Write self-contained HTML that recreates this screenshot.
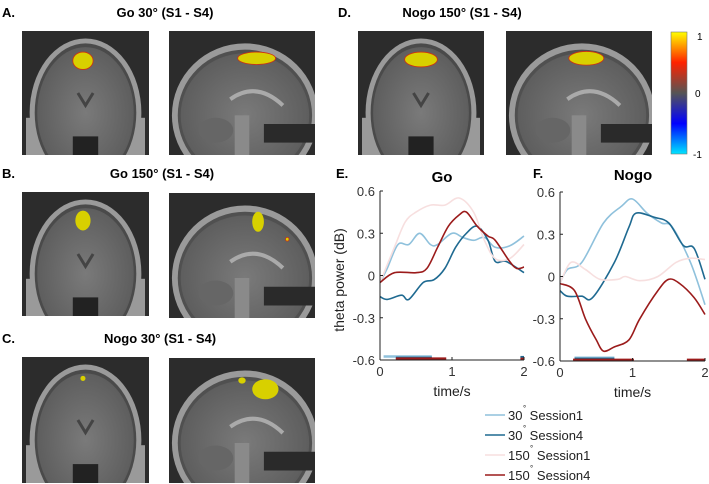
<!DOCTYPE html>
<html><head><meta charset="utf-8"><style>
html,body{margin:0;width:709px;height:484px;background:#fff;overflow:hidden;font-family:"Liberation Sans",Arial,sans-serif;}
svg{display:block;position:absolute;left:0;top:0}
</style></head><body>
<svg id="fig" width="709" height="484" viewBox="0 0 709 484" xmlns="http://www.w3.org/2000/svg">
<defs>
<linearGradient id="cbar" x1="0" y1="0" x2="0" y2="1">
<stop offset="0" stop-color="#ffff00"/><stop offset="0.25" stop-color="#ff2200"/><stop offset="0.5" stop-color="#555"/><stop offset="0.75" stop-color="#0000ff"/><stop offset="1" stop-color="#00e5ff"/>
</linearGradient>
<radialGradient id="brainG" cx="0.5" cy="0.5" r="0.5"><stop offset="0" stop-color="#7a7a7a"/><stop offset="1" stop-color="#5e5e5e"/></radialGradient>
</defs>
<g font-weight="bold" font-size="13" fill="#000">
<text x="2" y="17">A.</text>
<text x="165" y="17" text-anchor="middle">Go 30° (S1 - S4)</text>
<text x="338" y="17">D.</text>
<text x="462" y="17" text-anchor="middle">Nogo 150° (S1 - S4)</text>
<text x="2" y="178">B.</text>
<text x="162" y="178" text-anchor="middle">Go 150° (S1 - S4)</text>
<text x="2" y="343">C.</text>
<text x="160" y="343" text-anchor="middle">Nogo 30° (S1 - S4)</text>
<text x="336" y="178">E.</text>
<text x="533" y="178">F.</text>
<text x="442" y="182" text-anchor="middle" font-size="15">Go</text>
<text x="633" y="180" text-anchor="middle" font-size="15">Nogo</text>
</g>
<g id="brains"></g>
<g>
<rect x="671" y="32" width="16" height="122" fill="url(#cbar)" stroke="#777" stroke-width="0.6"/>
<text x="697" y="40" font-size="10">1</text>
<text x="695" y="97" font-size="10">0</text>
<text x="693" y="158" font-size="10">-1</text>
</g>
<text transform="translate(344,280) rotate(-90)" text-anchor="middle" font-size="14" fill="#222">theta power (dB)</text>
<g id="charts"></g>
<g id="legend" font-size="13" fill="#222"></g>
</svg>
<script>
const NS="http://www.w3.org/2000/svg";
function mk(tag,attrs,parent){const e=document.createElementNS(NS,tag);for(const k in attrs)e.setAttribute(k,attrs[k]);parent.appendChild(e);return e;}
const svgRoot=document.getElementById('fig');
const defs=svgRoot.querySelector('defs');
const brains=document.getElementById('brains');
let clipN=0;
function brain(x,y,w,h,type,blobs,name){
  clipN++;
  const cp=mk('clipPath',{id:'clip'+clipN},defs);
  mk('rect',{x:x,y:y,width:w,height:h},cp);
  const g=mk('g',{'clip-path':`url(#clip${clipN})`},brains);
  
  
  mk('rect',{x:x,y:y,width:w,height:h,fill:'#2c2c2c'},g);
  if(type==='cor'){
    mk('rect',{x:x+4,y:y+h*0.7,width:w-8,height:h*0.3,fill:'#9a9a9a'},g);
    mk('ellipse',{cx:x+w/2,cy:y+h*0.66,rx:w*0.44,ry:h*0.6,fill:'#9a9a9a'},g);
    mk('ellipse',{cx:x+w/2,cy:y+h*0.66,rx:w*0.4,ry:h*0.56,fill:'#4a4a4a'},g);
    mk('ellipse',{cx:x+w/2,cy:y+h*0.66,rx:w*0.38,ry:h*0.53,fill:'url(#brainG)'},g);
    mk('path',{d:`M${x+w*0.44} ${y+h*0.5} L${x+w/2} ${y+h*0.6} L${x+w*0.56} ${y+h*0.5}`,stroke:'#444',fill:'none','stroke-width':3},g);
    mk('rect',{x:x+w*0.4,y:y+h*0.85,width:w*0.2,height:h*0.15,fill:'#222'},g);
  }else{
    mk('ellipse',{cx:x+w*0.52,cy:y+h*0.68,rx:w*0.5,ry:h*0.58,fill:'#9a9a9a'},g);
    mk('ellipse',{cx:x+w*0.52,cy:y+h*0.68,rx:w*0.46,ry:h*0.53,fill:'#505050'},g);
    mk('ellipse',{cx:x+w*0.52,cy:y+h*0.68,rx:w*0.44,ry:h*0.5,fill:'url(#brainG)'},g);
    mk('path',{d:`M${x+w*0.42} ${y+h*0.55} Q${x+w*0.6} ${y+h*0.4} ${x+w*0.78} ${y+h*0.6}`,stroke:'#aaa',fill:'none','stroke-width':4},g);
    mk('ellipse',{cx:x+w*0.32,cy:y+h*0.8,rx:w*0.12,ry:h*0.1,fill:'#666'},g);
    mk('rect',{x:x+w*0.45,y:y+h*0.68,width:w*0.1,height:h*0.32,fill:'#8a8a8a'},g);
    mk('rect',{x:x+w*0.65,y:y+h*0.75,width:w*0.35,height:h*0.15,fill:'#2a2a2a'},g);
  }
  blobs.forEach(b=>{mk('ellipse',{cx:x+w*b[0],cy:y+h*b[1],rx:w*b[2],ry:h*b[3],fill:'#d8d000',stroke:b[4]||'none','stroke-width':0.8},g);});
}
brain(22,31,127,124,'cor',[[0.48,0.24,0.08,0.07,'#d03010']],'brain-a-coronal');
brain(169,31,146,124,'sag',[[0.6,0.22,0.13,0.05,'#d03010']],'brain-a-sagittal');
brain(358,31,126,124,'cor',[[0.5,0.23,0.13,0.06,'#d03010']],'brain-d-coronal');
brain(506,31,146,124,'sag',[[0.55,0.22,0.12,0.055,'#d03010']],'brain-d-sagittal');
brain(22,192,127,124,'cor',[[0.48,0.23,0.06,0.08]],'brain-b-coronal');
brain(169,193,146,125,'sag',[[0.61,0.23,0.04,0.08],[0.81,0.37,0.012,0.015,'#d03010']],'brain-b-sagittal');
brain(22,357,127,126,'cor',[[0.48,0.17,0.02,0.02]],'brain-c-coronal');
brain(169,358,146,125,'sag',[[0.5,0.18,0.025,0.025],[0.66,0.25,0.09,0.08]],'brain-c-sagittal');

// ---- chart data ----
const seriesNames=["30° Session1","30° Session4","150° Session1","150° Session4"];
const seriesColors=["#8fc1dc","#1f6a91","#f7dfdf","#9b1b1b"];
const yTicks=[0.6,0.3,0,-0.3,-0.6];
const yTickLabels=["0.6","0.3","0","-0.3","-0.6"];
const xTicks=[0,1,2];
const goT=[
 [0,0.1,0.25,0.4,0.55,0.7,0.8,1.0,1.15,1.3,1.45,1.6,1.8,2.0],
 [0,0.1,0.3,0.4,0.6,0.75,0.9,1.05,1.2,1.35,1.5,1.6,1.75,2.0],
 [0,0.2,0.35,0.5,0.7,0.9,1.1,1.3,1.45,1.6,1.8,2.0],
 [0,0.2,0.5,0.65,0.8,0.95,1.1,1.2,1.35,1.5,1.6,1.8,1.9,2.0]];
const goV=[
 [-0.05,0.05,0.22,0.22,0.3,0.22,0.22,0.3,0.27,0.25,0.27,0.2,0.21,0.28],
 [-0.15,-0.17,-0.14,-0.17,-0.05,-0.03,0.05,0.2,0.3,0.35,0.25,0.1,0.1,0.02],
 [-0.05,0.2,0.38,0.45,0.5,0.5,0.55,0.45,0.25,0.12,0.12,0.22],
 [-0.05,0.02,0.02,0.05,0.2,0.35,0.43,0.45,0.35,0.28,0.25,0.1,0.05,0.06]];
const nogoT=[
 [0,0.1,0.3,0.6,0.85,1.0,1.2,1.4,1.55,1.8,2.0],
 [0,0.1,0.3,0.45,0.75,0.95,1.05,1.3,1.5,1.7,1.85,2.0],
 [0,0.15,0.35,0.55,0.8,0.9,1.1,1.35,1.6,1.8,2.0],
 [0,0.2,0.35,0.5,0.6,0.75,0.95,1.1,1.35,1.5,1.65,1.85,2.0]];
const nogoV=[
 [-0.05,0.05,0.1,0.38,0.5,0.55,0.45,0.38,0.35,0.1,-0.2],
 [-0.1,-0.14,-0.14,-0.15,0.1,0.35,0.45,0.42,0.38,0.22,0.2,-0.02],
 [-0.05,0.1,0.05,-0.02,-0.02,0,-0.03,0,0.1,0.13,0.12],
 [-0.05,-0.1,-0.3,-0.45,-0.53,-0.5,-0.45,-0.3,-0.1,-0.02,-0.05,-0.15,-0.27]];
// significance bars: [seriesIndex, start, end, y]
const goSig=[[0,0.05,0.72,-0.575],[1,0.22,0.72,-0.585],[3,0.22,0.92,-0.59],[1,1.95,2.0,-0.58],[3,1.95,2.0,-0.592]];
const nogoSig=[[0,0.2,0.75,-0.577],[1,0.2,0.75,-0.585],[3,0.18,1.02,-0.592],[3,1.75,2.0,-0.592]];

const charts=document.getElementById('charts');
function smooth(pts){
  let d=`M${pts[0][0]} ${pts[0][1]}`;
  for(let i=0;i<pts.length-1;i++){
    const p0=pts[i-1]||pts[i],p1=pts[i],p2=pts[i+1],p3=pts[i+2]||p2;
    const c1=[p1[0]+(p2[0]-p0[0])/6,p1[1]+(p2[1]-p0[1])/6];
    const c2=[p2[0]-(p3[0]-p1[0])/6,p2[1]-(p3[1]-p1[1])/6];
    d+=` C${c1[0].toFixed(1)} ${c1[1].toFixed(1)} ${c2[0].toFixed(1)} ${c2[1].toFixed(1)} ${p2[0].toFixed(1)} ${p2[1].toFixed(1)}`;
  }
  return d;
}
function chart(x0,x1,yTop,yBot,T,V,sig,name){
  const g=mk('g',{},charts);
  
  
  const sx=t=>x0+(x1-x0)*t/2;
  const sy=v=>yBot-(yBot-yTop)*(v+0.6)/1.2;
  [0,1,2,3].forEach(i=>{
    const p=mk('path',{d:smooth(T[i].map((t,j)=>[sx(t),sy(V[i][j])])),fill:'none',stroke:seriesColors[i],'stroke-width':1.6},g);
    
    
  });
  sig.forEach(s=>{
    const r=mk('line',{x1:sx(s[1]),x2:sx(s[2]),y1:sy(s[3]),y2:sy(s[3]),stroke:seriesColors[s[0]],'stroke-width':2.5},g);
    
    
  });
  mk('line',{x1:x0,x2:x0,y1:yTop,y2:yBot,stroke:'#222','stroke-width':1},g);
  mk('line',{x1:x0,x2:x1,y1:yBot,y2:yBot,stroke:'#222','stroke-width':1},g);
  yTicks.forEach((v,i)=>{
    mk('line',{x1:x0,x2:x0+3,y1:sy(v),y2:sy(v),stroke:'#222'},g);
    const t=mk('text',{x:x0-5,y:sy(v)+5,'text-anchor':'end','font-size':13,fill:'#333'},g);
    t.textContent=yTickLabels[i];
    
    
  });
  xTicks.forEach(v=>{
    mk('line',{x1:sx(v),x2:sx(v),y1:yBot,y2:yBot-3,stroke:'#222'},g);
    const t=mk('text',{x:sx(v),y:yBot+16,'text-anchor':'middle','font-size':13,fill:'#333'},g);
    t.textContent=v;
    
    
  });
  const xl=mk('text',{x:(x0+x1)/2,y:yBot+36,'text-anchor':'middle','font-size':14,fill:'#222'},g);
  xl.textContent='time/s';
  
  
}
chart(380,524,191,360,goT,goV,goSig,'go-chart');
chart(560,705,192,361,nogoT,nogoV,nogoSig,'nogo-chart');

const leg=document.getElementById('legend');
seriesNames.forEach((n,i)=>{
  const y=415+i*20;
  const l=mk('line',{x1:485,x2:505,y1:y,y2:y,stroke:seriesColors[i],'stroke-width':1.6},leg);
  
  
  const parts=n.split('°');
  const t=mk('text',{x:508,y:y+5},leg);
  t.textContent=parts[0]+'\u00a0\u00a0'+parts[1].trim();
  
  
  const d=mk('text',{x:508+(n.startsWith('150')?22:15),y:y-4,'font-size':8},leg);
  d.textContent='°';
  
  
});
</script>
</body></html>
